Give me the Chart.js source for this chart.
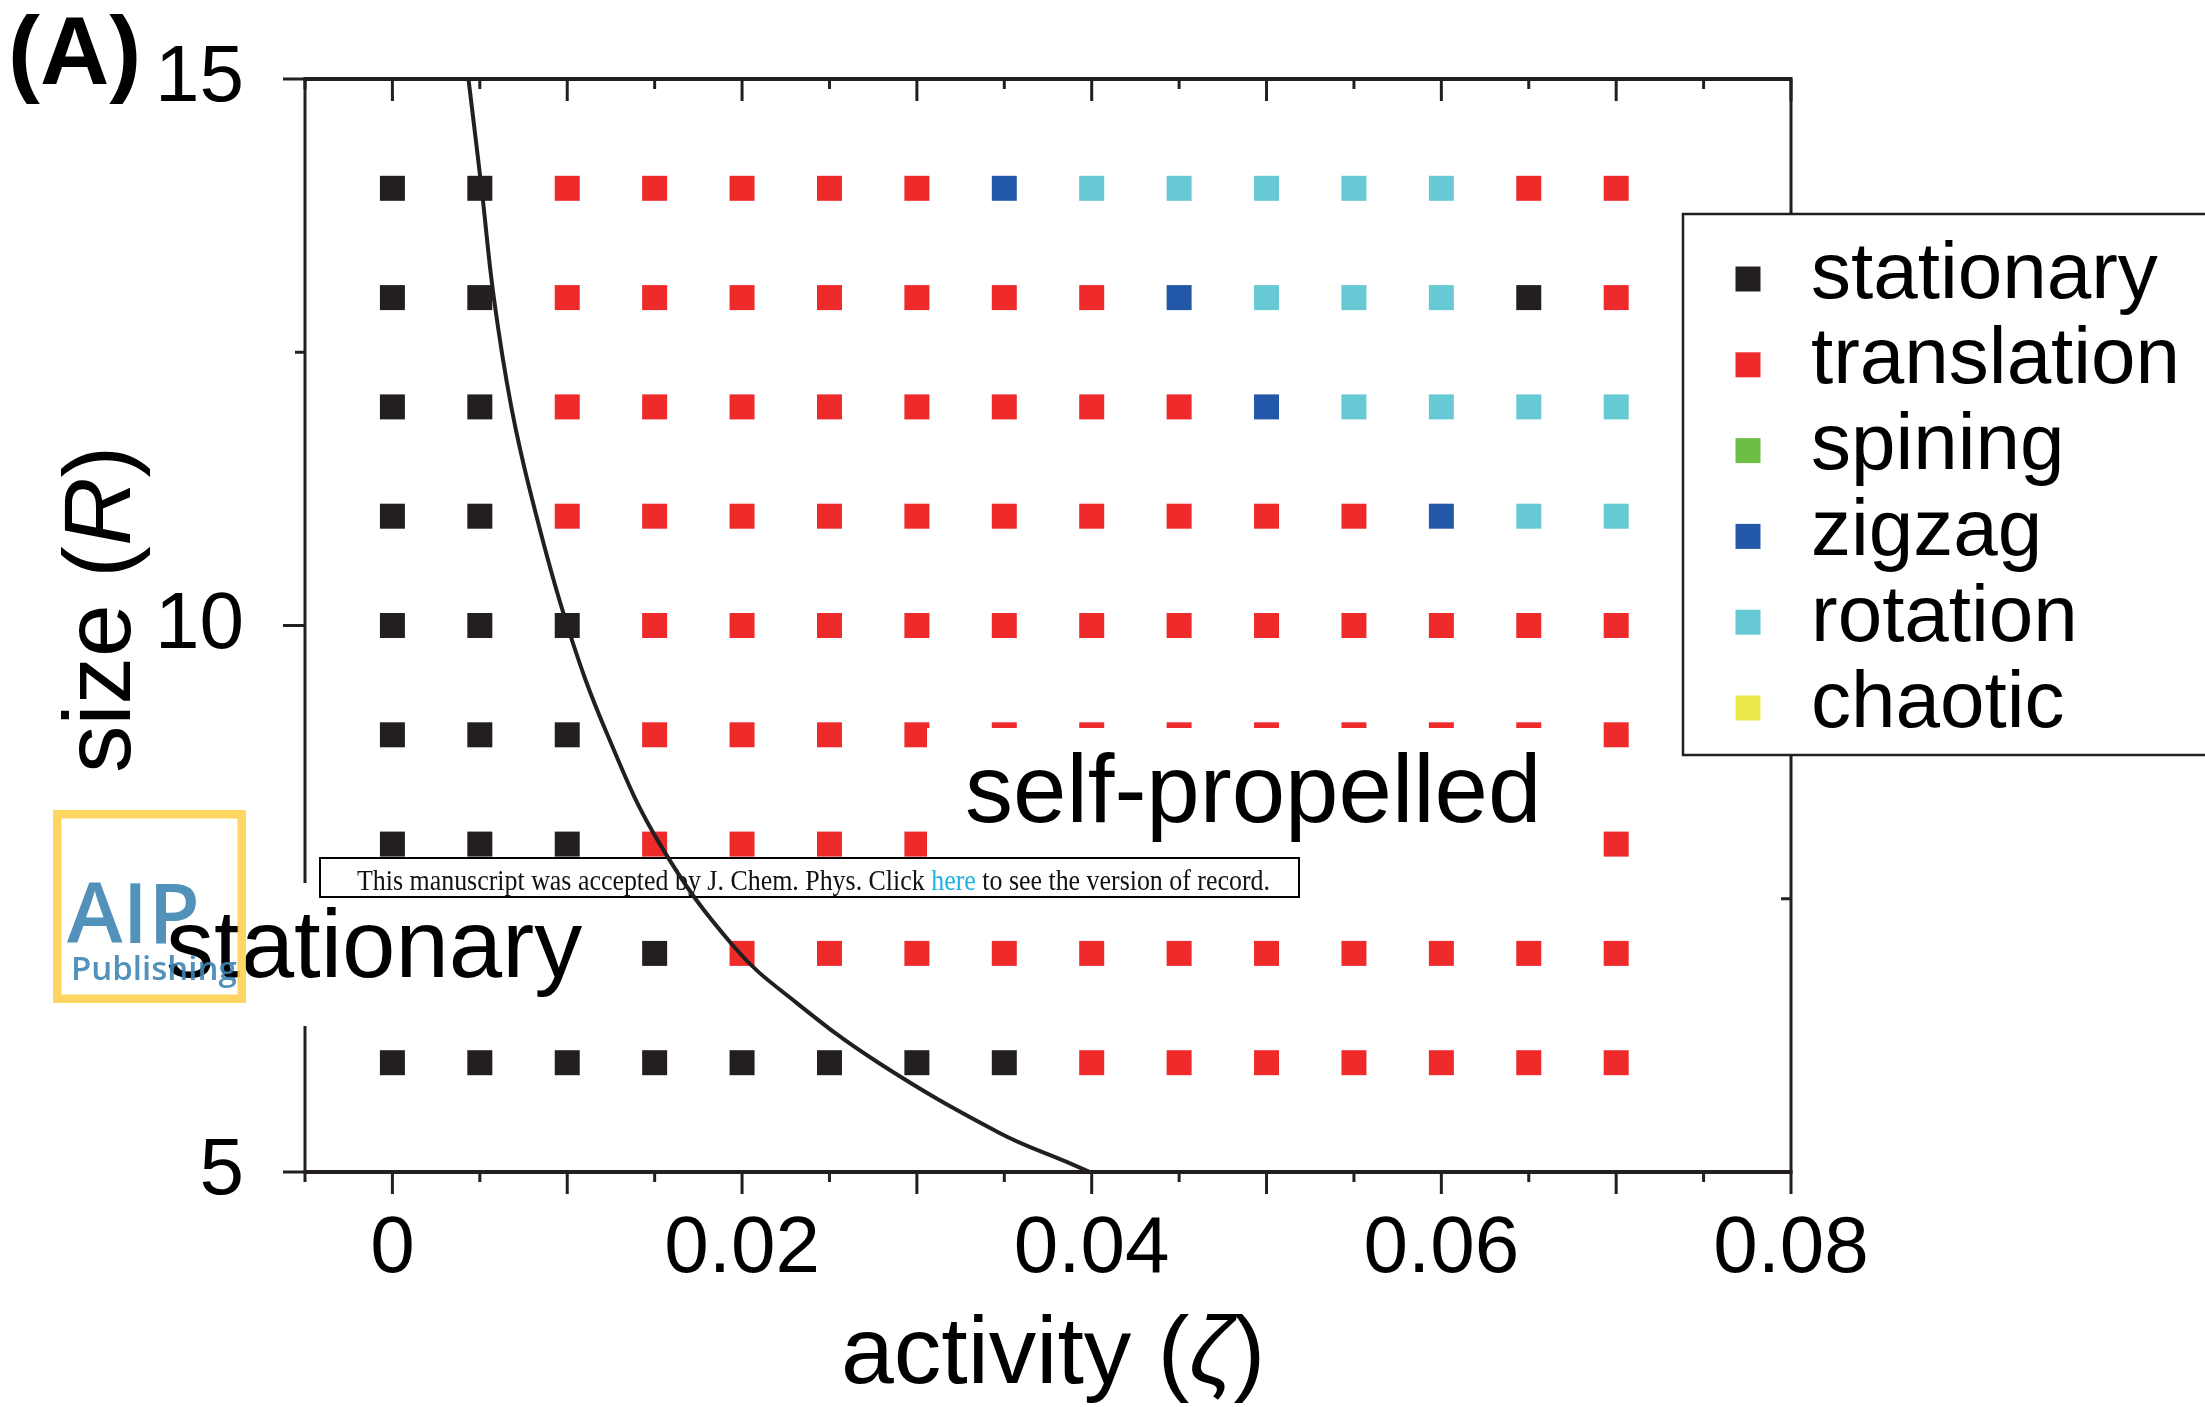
<!DOCTYPE html>
<html>
<head>
<meta charset="utf-8">
<script src="https://cdn.jsdelivr.net/npm/chart.js@4.4.1/dist/chart.umd.min.js"></script>
<style>
  html, body { margin: 0; padding: 0; background: #fff; }
  #wrap { position: relative; width: 2205px; height: 1407px; }
</style>
</head>
<body>
<div id="wrap"><canvas id="chart"></canvas></div>
<script>
// columns of the phase diagram (activity) and rows (size), top row first
const activity = [0, 0.005, 0.01, 0.015, 0.02, 0.025, 0.03, 0.035, 0.04, 0.045, 0.05, 0.055, 0.06, 0.065, 0.07];
const sizes = [14, 13, 12, 11, 10, 9, 8, 7, 6];

// one string per size row, one letter per activity column
// S stationary, T translation, P spining, Z zigzag, O rotation, C chaotic
const phaseRows = [
  "SSTTTTTZOOOOOTT",
  "SSTTTTTTTZOOOST",
  "SSTTTTTTTTZOOOO",
  "SSTTTTTTTTTTZOO",
  "SSSTTTTTTTTTTTT",
  "SSSTTTTTTTTTTTT",
  "SSSTTTTTTTTTTTT",
  "SSSSTTTTTTTTTTT",
  "SSSSSSSSTTTTTTT",
];

const modeNames = ["stationary", "translation", "spining", "zigzag", "rotation", "chaotic"];
const modeCodes = ["S", "T", "P", "Z", "O", "C"];
const modeColors = ["#231f20", "#ee2a2b", "#6dbe45", "#2357a8", "#66c9d4", "#ebe84b"];

// boundary curve
const boundaryX = [0.00435, 0.0051, 0.0058, 0.0068, 0.008, 0.010, 0.0123, 0.0153, 0.0196, 0.0231, 0.0278, 0.0347, 0.0386, 0.0399];
const boundaryY = [15, 14, 13, 12, 11.15, 10, 9, 8, 7.05, 6.55, 6, 5.36, 5.09, 5];

const xLabelTicks = [0, 0.02, 0.04, 0.06, 0.08];
const yLabelTicks = [5, 10, 15];

const INK = "#231f20";
const SANS = "'Liberation Sans', Arial, sans-serif";

Chart.defaults.font.family = SANS;
Chart.defaults.color = "#000";

const phaseSets = modeNames.map((name, m) => {
  const pts = [];
  phaseRows.forEach((row, r) => {
    row.split("").forEach((code, c) => {
      if (code === modeCodes[m]) pts.push({ x: activity[c], y: sizes[r] });
    });
  });
  return {
    label: name,
    data: pts,
    pointStyle: "rect",
    pointRadius: 17.68,
    pointHoverRadius: 17.68,
    pointBackgroundColor: modeColors[m],
    backgroundColor: modeColors[m],
    pointBorderWidth: 0,
    order: 1,
  };
});

const boundarySet = {
  label: "boundary",
  data: boundaryX.map((x, i) => ({ x, y: boundaryY[i] })),
  showLine: true,
  borderColor: INK,
  borderWidth: 4,
  pointRadius: 0,
  tension: 0.4,
  order: 0,
};

const near = (v, list) => list.find((t) => Math.abs(t - v) < 1e-9);
const isMajor = (v, step) => Math.abs(v / step - Math.round(v / step)) < 1e-6;

function seg(ctx, x1, y1, x2, y2) {
  ctx.beginPath();
  ctx.moveTo(x1, y1);
  ctx.lineTo(x2, y2);
  ctx.stroke();
}

// box frame and tick marks (long on major, short on minor)
const frame = {
  id: "frame",
  beforeDatasetsDraw(chart) {
    const { ctx, chartArea: a, scales: { x, y } } = chart;
    ctx.save();
    ctx.strokeStyle = INK;
    ctx.lineWidth = 3;
    x.ticks.forEach((t) => {
      const px = x.getPixelForValue(t.value);
      const len = isMajor(t.value, 0.01) ? 22 : 10;
      seg(ctx, px, a.bottom, px, a.bottom + len);
      seg(ctx, px, a.top, px, a.top + len);
    });
    y.ticks.forEach((t) => {
      const py = y.getPixelForValue(t.value);
      const len = isMajor(t.value, 5) ? 22 : 10;
      seg(ctx, a.left - len, py, a.left, py);
      seg(ctx, a.right - len, py, a.right, py);
    });
    seg(ctx, a.left, a.top, a.left, a.bottom);
    seg(ctx, a.right, a.top, a.right, a.bottom);
    ctx.lineWidth = 4;
    seg(ctx, a.left - 1.5, a.top, a.right + 1.5, a.top);
    seg(ctx, a.left - 1.5, a.bottom, a.right + 1.5, a.bottom);
    ctx.restore();
  },
};

function mixedText(ctx, parts, x, y) {
  let cx = x;
  parts.forEach(([text, font]) => {
    ctx.font = font;
    ctx.fillText(text, cx, y);
    cx += ctx.measureText(text).width;
  });
}

// region labels and the notice banner, painted under the boundary curve
const regionLabels = {
  id: "regionLabels",
  beforeDatasetDraw(chart, args) {
    if (chart.data.datasets[args.index].label !== "boundary") return;
    const ctx = chart.ctx;
    ctx.save();
    ctx.fillStyle = "#fff";
    ctx.fillRect(927, 728, 625, 136);
    ctx.fillRect(150, 883, 452, 143);
    ctx.fillStyle = "#000";
    ctx.textBaseline = "alphabetic";
    ctx.textAlign = "left";
    ctx.font = "96px " + SANS;
    ctx.fillText("self-propelled", 965, 822);
    ctx.fillText("stationary", 166, 977);

    // banner
    ctx.fillStyle = "#fff";
    ctx.fillRect(320, 858, 979, 39);
    ctx.strokeStyle = "#000";
    ctx.lineWidth = 2;
    ctx.strokeRect(320, 858, 979, 39);
    const parts = [
      ["This manuscript was accepted by J. Chem. Phys. Click ", "#111"],
      ["here", "#1db3e5"],
      [" to see the version of record.", "#111"],
    ];
    ctx.font = "29px 'Liberation Serif', 'Times New Roman', serif";
    const total = parts.reduce((s, p) => s + ctx.measureText(p[0]).width, 0);
    ctx.translate(357, 890);
    ctx.scale(913 / total, 1);
    let cx = 0;
    parts.forEach(([s, c]) => {
      ctx.fillStyle = c;
      ctx.fillText(s, cx, 0);
      cx += ctx.measureText(s).width;
    });
    ctx.restore();
  },
  afterDraw(chart) {
    const ctx = chart.ctx;
    ctx.save();
    ctx.fillStyle = "#000";
    ctx.textAlign = "left";
    ctx.textBaseline = "alphabetic";

    // panel tag
    ctx.font = "bold 96px " + SANS;
    ctx.fillText("(A)", 8, 84);

    // axis titles
    mixedText(ctx, [
      ["activity (", "95px " + SANS],
      ["\u03b6", "italic 95px " + SANS],
      [")", "95px " + SANS],
    ], 841, 1383);
    ctx.save();
    ctx.translate(130, 773);
    ctx.rotate(-Math.PI / 2);
    mixedText(ctx, [
      ["size (", "95px " + SANS],
      ["R", "italic 95px " + SANS],
      [")", "95px " + SANS],
    ], 0, 0);
    ctx.restore();

    // publisher mark
    ctx.save();
    ctx.globalAlpha = 0.9;
    ctx.strokeStyle = "#fed250";
    ctx.lineWidth = 8.5;
    ctx.strokeRect(57.25, 814.25, 184.5, 184.5);
    ctx.fillStyle = "#3f85b3";
    ctx.font = "600 84px 'Open Sans', " + SANS;
    ctx.fillText("AIP", 67, 943);
    ctx.font = "600 33px 'Open Sans', " + SANS;
    ctx.fillText("Publishing", 71, 980);
    ctx.restore();

    // legend
    const sets = chart.data.datasets.filter((d) => d.label !== "boundary");
    ctx.fillStyle = "#fff";
    ctx.fillRect(1683, 214, 600, 541);
    ctx.strokeStyle = INK;
    ctx.lineWidth = 2.5;
    ctx.strokeRect(1683, 214, 600, 541);
    ctx.font = "80px " + SANS;
    sets.forEach((d, i) => {
      const ry = 279 + i * 85.8;
      ctx.fillStyle = d.pointBackgroundColor;
      ctx.fillRect(1748 - 12.5, ry - 12.5, 25, 25);
      ctx.fillStyle = "#000";
      ctx.fillText(d.label, 1811, ry + 18.5);
    });
    ctx.restore();
  },
};

new Chart(document.getElementById("chart"), {
  type: "scatter",
  data: { datasets: [...phaseSets, boundarySet] },
  options: {
    responsive: true,
    maintainAspectRatio: false,
    animation: false,
    events: [],
    layout: { padding: { top: 79, right: 414, bottom: 0, left: 0 } },
    plugins: { legend: { display: false }, tooltip: { enabled: false } },
    scales: {
      x: {
        type: "linear",
        min: -0.005,
        max: 0.08,
        grid: { display: false },
        border: { display: false },
        ticks: {
          stepSize: 0.005,
          autoSkip: false,
          maxRotation: 0,
          padding: 22,
          font: { size: 80 },
          callback: (v) => {
            const hit = near(v, xLabelTicks);
            return hit === undefined ? "" : String(hit);
          },
        },
        afterFit: (s) => { s.height = 235; s.paddingLeft = 0; },
      },
      y: {
        type: "linear",
        min: 5,
        max: 15,
        grid: { display: false },
        border: { display: false },
        ticks: {
          stepSize: 2.5,
          autoSkip: false,
          padding: 53,
          font: { size: 80 },
          callback: (v) => {
            const hit = near(v, yLabelTicks);
            return hit === undefined ? "" : String(hit);
          },
        },
        afterFit: (s) => { s.width = 305; s.paddingTop = 0; s.paddingBottom = 0; },
      },
    },
  },
  plugins: [frame, regionLabels],
});
</script>
</body>
</html>
